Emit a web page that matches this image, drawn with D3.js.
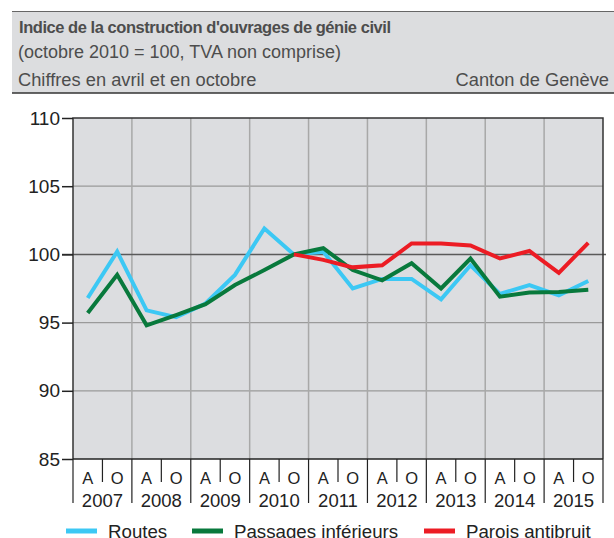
<!DOCTYPE html>
<html>
<head>
<meta charset="utf-8">
<script src="https://cdn.jsdelivr.net/npm/d3@7"></script>
<style>
  body { margin: 0; background: #fff; }
  svg { display: block; font-family: "Liberation Sans", Arial, sans-serif; }
</style>
</head>
<body>
<div id="vis"></div>
<script>
// Data (A = avril, O = octobre)
const years = ["2007", "2008", "2009", "2010", "2011", "2012", "2013", "2014", "2015"];
const halves = ["A", "O"];
const routes = [96.8, 100.2, 95.9, 95.4, 96.4, 98.5, 101.9, 100.0, 100.2, 97.5, 98.2, 98.2, 96.7, 99.2, 97.1, 97.75, 97.0, 98.05];
const passages = [95.7, 98.5, 94.8, 95.55, 96.35, 97.75, 98.85, 100.0, 100.45, 98.85, 98.1, 99.35, 97.5, 99.7, 96.9, 97.2, 97.25, 97.4];
const parois = [null, null, null, null, null, null, null, 100.0, 99.6, 99.05, 99.2, 100.8, 100.8, 100.65, 99.7, 100.25, 98.65, 100.85];
const yTicks = [85, 90, 95, 100, 105, 110];
const seriesNames = ["Routes", "Passages inférieurs", "Parois antibruit"];
const seriesColors = ["#3cc8f4", "#08793c", "#ec1c24"];

const width = 614, height = 538;
const margin = {left: 73, right: 11, top: 118, bottom: 79};
const font = "Liberation Sans, Arial, sans-serif";

const svg = d3.select("#vis").append("svg")
    .attr("width", width)
    .attr("height", height);

// header band
svg.append("rect").attr("x", 12).attr("y", 11).attr("width", width - 12).attr("height", 82)
    .attr("fill", "#dcdddf");
svg.append("line").attr("x1", 12).attr("x2", width).attr("y1", 11.5).attr("y2", 11.5)
    .attr("stroke", "#666").attr("stroke-width", 1);
svg.append("line").attr("x1", 12).attr("x2", width).attr("y1", 93).attr("y2", 93)
    .attr("stroke", "#333").attr("stroke-width", 1.5);

svg.append("text").attr("x", 19).attr("y", 33)
    .attr("font-size", 16.5).attr("font-weight", "bold").attr("fill", "#4d4d4d")
    .attr("letter-spacing", -0.45)
    .text("Indice de la construction d'ouvrages de génie civil");
svg.append("text").attr("x", 18).attr("y", 57.5)
    .attr("font-size", 18).attr("fill", "#4d4d4d")
    .text("(octobre 2010 = 100, TVA non comprise)");
svg.append("text").attr("x", 18).attr("y", 86)
    .attr("font-size", 18.3).attr("fill", "#4d4d4d")
    .text("Chiffres en avril et en octobre");
svg.append("text").attr("x", 609).attr("y", 86).attr("text-anchor", "end")
    .attr("font-size", 18.3).attr("fill", "#4d4d4d")
    .text("Canton de Genève");

// scales
const periods = [];
years.forEach(y => halves.forEach(h => periods.push(y + h)));

const x = d3.scaleBand().domain(periods)
    .range([margin.left, width - margin.right]);
const xYear = d3.scaleBand().domain(years)
    .range([margin.left, width - margin.right]);
const y = d3.scaleLinear().domain([85, 110])
    .range([height - margin.bottom, margin.top]);

const x0 = margin.left, x1 = width - margin.right;
const y0 = height - margin.bottom, y1 = margin.top;

svg.append("rect").attr("x", x0).attr("y", y1).attr("width", x1 - x0).attr("height", y0 - y1)
    .attr("fill", "#dcdde0");

// horizontal grid
svg.append("g").selectAll("line").data(yTicks.filter(d => d !== 85 && d !== 100 && d !== 110))
    .join("line")
    .attr("x1", x0).attr("x2", x1)
    .attr("y1", d => y(d)).attr("y2", d => y(d))
    .attr("stroke", "#9a9a9a").attr("stroke-width", 1.2);

// vertical grid at year boundaries
svg.append("g").selectAll("line").data(years.slice(1))
    .join("line")
    .attr("x1", d => xYear(d)).attr("x2", d => xYear(d))
    .attr("y1", y1).attr("y2", y0)
    .attr("stroke", "#a8a8a8").attr("stroke-width", 1.5);

// 100 reference line
svg.append("line")
    .attr("x1", x0 - 11).attr("x2", x1 + 3)
    .attr("y1", y(100)).attr("y2", y(100))
    .attr("stroke", "#5a5a5a").attr("stroke-width", 1.5);

// frame
svg.append("path")
    .attr("d", `M${x0},${y0}V${y1}H${x1}V${y0}`)
    .attr("fill", "none").attr("stroke", "#333").attr("stroke-width", 1.5);

// y axis
const yAxis = svg.append("g")
    .attr("transform", `translate(${x0},0)`)
    .call(d3.axisLeft(y).tickValues(yTicks).tickSize(11).tickPadding(2));
yAxis.attr("font-family", font);
yAxis.select(".domain").remove();
yAxis.selectAll(".tick line").attr("stroke", "#222").attr("stroke-width", 1.5);
yAxis.selectAll(".tick text")
    .attr("font-size", 19).attr("fill", "#222");

// x axis
svg.append("line").attr("x1", x0).attr("x2", x1).attr("y1", y0).attr("y2", y0)
    .attr("stroke", "#222").attr("stroke-width", 1.5);

svg.append("g").selectAll("line").data(years.concat(["end"]))
    .join("line")
    .attr("x1", d => d === "end" ? x1 : xYear(d))
    .attr("x2", d => d === "end" ? x1 : xYear(d))
    .attr("y1", y0).attr("y2", y0 + 44)
    .attr("stroke", "#222").attr("stroke-width", 1.2);

svg.append("g").selectAll("line").data(years)
    .join("line")
    .attr("x1", d => xYear(d) + xYear.bandwidth() / 2)
    .attr("x2", d => xYear(d) + xYear.bandwidth() / 2)
    .attr("y1", y0).attr("y2", y0 + 23)
    .attr("stroke", "#222").attr("stroke-width", 1.2);

svg.append("g").selectAll("text").data(periods)
    .join("text")
    .attr("x", d => x(d) + x.bandwidth() / 2)
    .attr("y", y0 + 25)
    .attr("text-anchor", "middle")
    .attr("font-size", 16.5).attr("fill", "#222")
    .text(d => d.slice(4));

svg.append("g").selectAll("text").data(years)
    .join("text")
    .attr("x", d => xYear(d) + xYear.bandwidth() / 2)
    .attr("y", y0 + 48)
    .attr("text-anchor", "middle")
    .attr("font-size", 18.5).attr("fill", "#222")
    .text(d => d);

// lines
const line = d3.line()
    .defined(d => d.v !== null)
    .x(d => x(d.p) + x.bandwidth() / 2)
    .y(d => y(d.v));

[routes, passages, parois].forEach((vals, i) => {
    svg.append("path")
        .datum(vals.map((v, j) => ({p: periods[j], v: v})))
        .attr("d", line)
        .attr("fill", "none")
        .attr("stroke", seriesColors[i])
        .attr("stroke-width", 4)
        .attr("stroke-linejoin", "miter");
});

// legend
const legendX = [66, 192, 424];
const legend = svg.append("g").selectAll("g").data(seriesNames)
    .join("g")
    .attr("transform", (d, i) => `translate(${legendX[i]},531)`);
legend.append("line")
    .attr("x1", 0).attr("x2", 31)
    .attr("stroke", (d, i) => seriesColors[i]).attr("stroke-width", 5);
legend.append("text")
    .attr("x", 42).attr("y", 7)
    .attr("font-size", 18.7).attr("fill", "#222")
    .text(d => d);
</script>
</body>
</html>
